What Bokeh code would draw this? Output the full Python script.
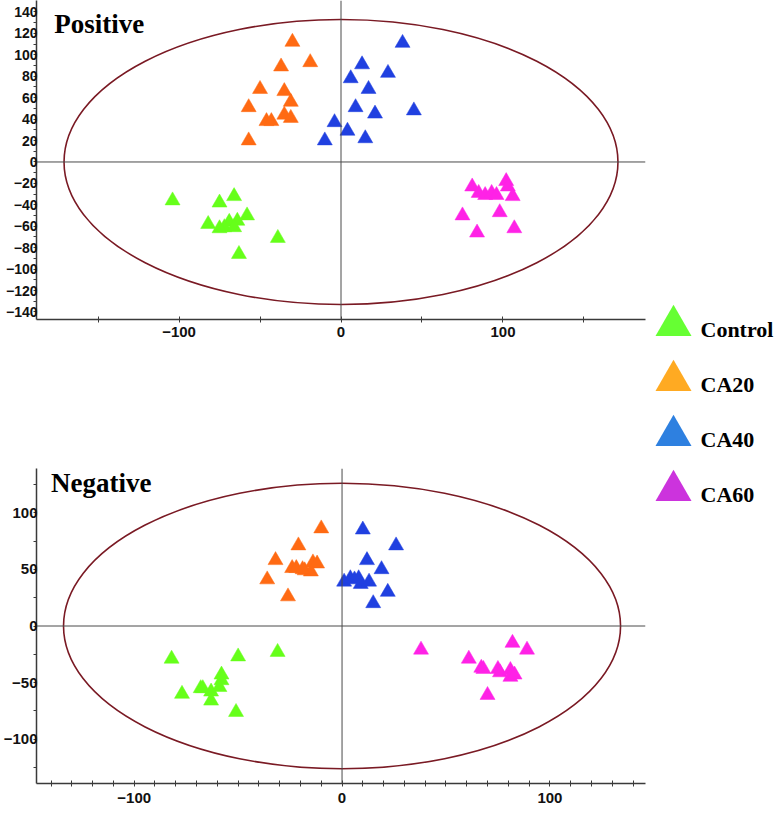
from bokeh.plotting import figure
from bokeh.models import Range1d, FixedTicker, Span, Label
from bokeh.layouts import row, column
from bokeh.core.properties import value
from bokeh.embed import file_html
from bokeh.resources import INLINE

groups = ["Control", "CA20", "CA40", "CA60"]
point_colors = ["#66FF1A", "#FF6A13", "#2040E0", "#FF22E6"]
legend_colors = ["#66FF33", "#FFAA22", "#2E80E0", "#CC33DD"]

# Positive mode scores
pos_control_x = [-104, -75, -66, -58, -82, -69, -64, -72, -66, -75, -39, -63]
pos_control_y = [-36, -38, -32, -50, -58, -56, -55, -61, -61, -62, -71, -86]
pos_ca20_x = [-30, -19, -37, -50, -35, -57, -31, -35, -31, -46, -43, -57]
pos_ca20_y = [112, 93, 89, 68, 66, 51, 56, 44, 41, 38, 38, 20]
pos_ca40_x = [38, 13, 29, 6, 17, 9, 21, 45, -4, 4, 15, -10]
pos_ca40_y = [111, 91, 83, 78, 68, 51, 45, 48, 37, 29, 22, 20]
pos_ca60_x = [81, 85, 89, 93, 96, 102, 103, 106, 75, 98, 84, 107]
pos_ca60_y = [-23, -29, -31, -29, -31, -18, -23, -32, -50, -47, -66, -62]

# Negative mode scores
neg_control_x = [-82, -50, -31, -77, -68, -67, -63, -63, -58, -58, -59, -51]
neg_control_y = [-29, -27, -23, -60, -55, -55, -58, -66, -43, -48, -54, -76]
neg_ca20_x = [-10, -21, -32, -24, -22, -18, -14, -12, -15, -36, -26, -19]
neg_ca20_y = [86, 71, 58, 51, 51, 49, 56, 55, 48, 41, 26, 50]
neg_ca40_x = [10, 26, 12, 19, 1, 4, 6, 8, 9, 13, 22, 15]
neg_ca40_y = [85, 71, 58, 50, 39, 42, 41, 42, 37, 39, 30, 20]
neg_ca60_x = [38, 82, 89, 61, 67, 68, 75, 76, 81, 81, 83, 70]
neg_ca60_y = [-21, -15, -21, -29, -37, -38, -38, -41, -39, -45, -43, -61]

# Hotelling T2 ellipse semi-axes
pos_ellipse = [171, 133]
neg_ellipse = [134, 126]

# axis ticks
pos_y_ticks = list(range(-140, 141, 20))
pos_y_minor = list(range(-130, 131, 20))
pos_x_ticks = [-100, 0, 100]
pos_x_minor = [-150, -50, 50, 150]
neg_y_ticks = [-100, -50, 0, 50, 100]
neg_y_minor = [-125, -75, -25, 25, 75, 125]
neg_x_ticks = [-100, 0, 100]
neg_x_minor = [v for v in range(-140, 141, 10) if v not in (-100, 0, 100)]

AXIS_COLOR = "#3a3a3a"
LABEL_FONT = "Liberation Sans"


def make_panel(title, xr, yr, series, ell, xt, xm, yt, ym, ylab_size,
               height, b_top, b_bottom, x_standoff, title_xy):
    p = figure(width=652, height=height, x_range=Range1d(*xr), y_range=Range1d(*yr),
               output_backend="svg", toolbar_location=None,
               min_border_left=28, min_border_right=7,
               min_border_top=b_top, min_border_bottom=b_bottom)
    p.outline_line_color = None
    p.xgrid.visible = False
    p.ygrid.visible = False
    p.background_fill_color = "white"
    p.border_fill_color = "white"

    p.xaxis.ticker = FixedTicker(ticks=xt, minor_ticks=xm)
    p.yaxis.ticker = FixedTicker(ticks=yt, minor_ticks=ym)
    for ax in (p.xaxis, p.yaxis):
        ax.axis_line_color = AXIS_COLOR
        ax.axis_line_width = 1.5
        ax.major_tick_line_color = AXIS_COLOR
        ax.minor_tick_line_color = AXIS_COLOR
        ax.major_label_text_font = LABEL_FONT
        ax.major_label_text_font_style = "bold"
        ax.major_label_text_color = "#111111"
    p.xaxis.major_tick_in = 3
    p.xaxis.major_tick_out = 3
    p.xaxis.minor_tick_in = 3
    p.xaxis.minor_tick_out = 3
    p.xaxis.major_label_text_font_size = "15px"
    p.xaxis.major_label_standoff = x_standoff
    p.yaxis.major_tick_in = 0
    p.yaxis.major_tick_out = 3
    p.yaxis.minor_tick_in = 0
    p.yaxis.minor_tick_out = 3
    p.yaxis.major_label_text_font_size = ylab_size
    p.yaxis.major_label_standoff = -4

    p.add_layout(Span(location=0, dimension="width", line_color="#4a4a4a", line_width=1))
    p.add_layout(Span(location=0, dimension="height", line_color="#4a4a4a", line_width=1))

    p.ellipse(x=0, y=0, width=2 * ell[0], height=2 * ell[1], fill_color=None,
              line_color="#7A1A24", line_width=1.6)

    for (xs, ys), col in zip(series, point_colors):
        p.scatter(xs, ys, marker="triangle", size=15, fill_color=col,
                  line_color=col, line_width=0.5)

    p.add_layout(Label(x=title_xy[0], y=title_xy[1], text=title,
                       text_baseline="alphabetic",
                       text_font="Liberation Serif", text_font_style="bold",
                       text_font_size="27px", text_color="#000000"))
    return p


p1 = make_panel("Positive", (-188, 188), (-147, 150.7),
                [(pos_control_x, pos_control_y), (pos_ca20_x, pos_ca20_y),
                 (pos_ca40_x, pos_ca40_y), (pos_ca60_x, pos_ca60_y)],
                pos_ellipse, pos_x_ticks, pos_x_minor, pos_y_ticks, pos_y_minor, "14px",
                height=345, b_top=0, b_bottom=26, x_standoff=4, title_xy=(-177, 129))

p2 = make_panel("Negative", (-147, 146), (-139, 139),
                [(neg_control_x, neg_control_y), (neg_ca20_x, neg_ca20_y),
                 (neg_ca40_x, neg_ca40_y), (neg_ca60_x, neg_ca60_y)],
                neg_ellipse, neg_x_ticks, neg_x_minor, neg_y_ticks, neg_y_minor, "15px",
                height=465, b_top=123, b_bottom=27, x_standoff=6, title_xy=(-140, 126))

# legend panel
leg_h = 810
spacing = 55.0
top_index_px = 325
y_top = -top_index_px / spacing
leg = figure(width=126, height=leg_h, x_range=Range1d(0, 126),
             y_range=Range1d(y_top + leg_h / spacing, y_top),
             output_backend="svg", toolbar_location=None,
             min_border=0)
leg.axis.visible = False
leg.grid.visible = False
leg.outline_line_color = None
leg_idx = list(range(len(groups)))
leg.scatter(x=21, y=leg_idx, marker="triangle", size=36, fill_color=legend_colors,
            line_color=legend_colors, line_width=0)
leg.text(x=48, y=leg_idx, text=groups, text_baseline="middle", y_offset=4,
         text_font=value("Liberation Serif"), text_font_style="bold",
         text_font_size="22px", text_color="#000000")

layout = row(column(p1, p2), leg)
open("out.html", "w").write(file_html(layout, INLINE))
